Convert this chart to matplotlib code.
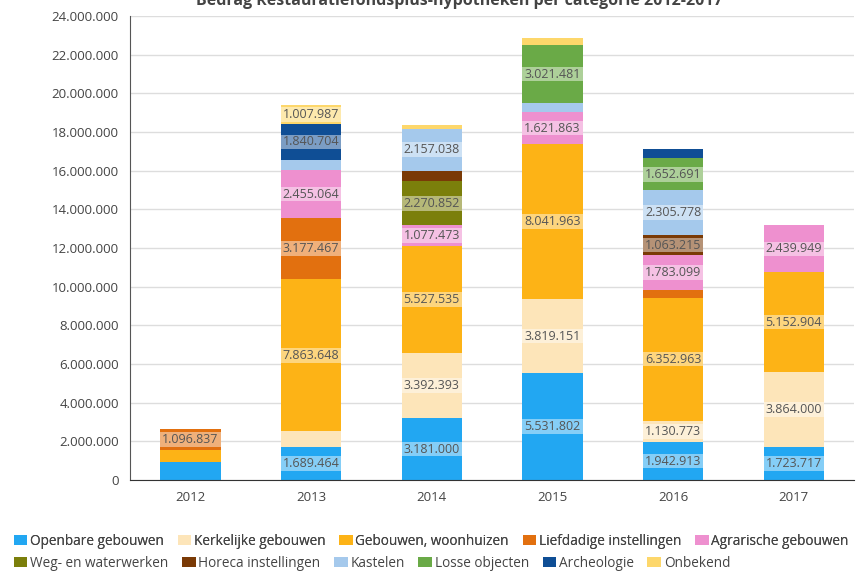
import matplotlib
matplotlib.use('Agg')
import matplotlib.pyplot as plt
import numpy as np
from matplotlib.patches import Patch

plt.rcParams['font.family'] = ['Open Sans', 'DejaVu Sans']

years = ['2012', '2013', '2014', '2015', '2016', '2017']

categories = ['Openbare gebouwen', 'Kerkelijke gebouwen', 'Gebouwen, woonhuizen',
              'Liefdadige instellingen', 'Agrarische gebouwen', 'Weg- en waterwerken',
              'Horeca instellingen', 'Kastelen', 'Losse objecten', 'Archeologie', 'Onbekend']

openbare = [920000, 1689464, 3181000, 5531802, 1942913, 1723717]
kerkelijke = [0, 830000, 3392393, 3819151, 1130773, 3864000]
woonhuizen = [620000, 7863648, 5527535, 8041963, 6352963, 5152904]
liefdadige = [1096837, 3177467, 0, 0, 410000, 0]
agrarische = [0, 2455064, 1077473, 1621863, 1783099, 2439949]
weg = [0, 0, 2270852, 0, 0, 0]
horeca = [0, 0, 560000, 0, 1063215, 0]
kastelen = [0, 550000, 2157038, 470000, 2305778, 0]
losse = [0, 0, 0, 3021481, 1652691, 0]
archeologie = [0, 1840704, 0, 0, 470000, 0]
onbekend = [0, 1007987, 220000, 380000, 0, 0]

series = [openbare, kerkelijke, woonhuizen, liefdadige, agrarische, weg,
          horeca, kastelen, losse, archeologie, onbekend]

colors = ['#22a7f2', '#fde5b9', '#fdb316', '#e2700f', '#ee90cf', '#7b7f0b',
          '#7a3a06', '#a5c9ec', '#6aaa47', '#0f4e95', '#fdd76b']

fig = plt.figure(figsize=(8.61, 5.74), dpi=100)
ax = fig.add_axes([0.151, 0.1638, 0.841, 0.8082])

x = np.arange(len(years))
width = 0.5
band = 750000
bottom = np.zeros(len(years))
for vals, col in zip(series, colors):
    vals = np.array(vals, dtype=float)
    ax.bar(x, vals, width, bottom=bottom, color=col, zorder=2)
    for i, v in enumerate(vals):
        if v >= 1000000:
            mid = bottom[i] + v / 2
            ax.bar(x[i], band, width, bottom=mid - band / 2, color='white',
                   alpha=0.45, zorder=3)
            ax.text(x[i], mid, f'{int(v):,}'.replace(',', '.'), ha='center',
                    va='center', fontsize=9, color='#555555', zorder=4)
    bottom += vals

ax.set_xlim(-0.5, 5.5)
ax.set_ylim(0, 24000000)
ax.set_yticks(np.arange(0, 24000001, 2000000))
ax.set_yticklabels([f'{v:,}'.replace(',', '.') for v in range(0, 24000001, 2000000)])
ax.set_xticks(x)
ax.set_xticklabels(years)
ax.tick_params(axis='both', length=0, labelsize=9.5, colors='#444444', pad=8)
ax.grid(axis='y', color='#dddddd', linewidth=1, zorder=0)
for s in ['top', 'right']:
    ax.spines[s].set_visible(False)
ax.spines['left'].set_color('#555555')
ax.spines['bottom'].set_color('#333333')

# title is cut off at the top edge in the original too
fig.text(0.534, 0.998, 'Bedrag Restauratiefondsplus-hypotheken per categorie 2012-2017',
         ha='center', va='center', fontsize=11.5, fontweight='bold', color='#444444')

handles = [Patch(facecolor=c, label=l) for c, l in zip(colors, categories)]
leg_kw = dict(frameon=False, fontsize=9.8, handlelength=1.0, handleheight=0.8,
              handletextpad=0.2, columnspacing=1.0, borderaxespad=0, borderpad=0,
              labelcolor='#444444')
leg1 = fig.legend(handles=handles[:5], loc='center left', bbox_to_anchor=(0.016, 0.057),
                  ncol=5, **leg_kw)
fig.add_artist(leg1)
fig.legend(handles=handles[5:], loc='center left', bbox_to_anchor=(0.016, 0.019),
           ncol=6, **leg_kw)

fig.savefig('out.png', dpi=100)
